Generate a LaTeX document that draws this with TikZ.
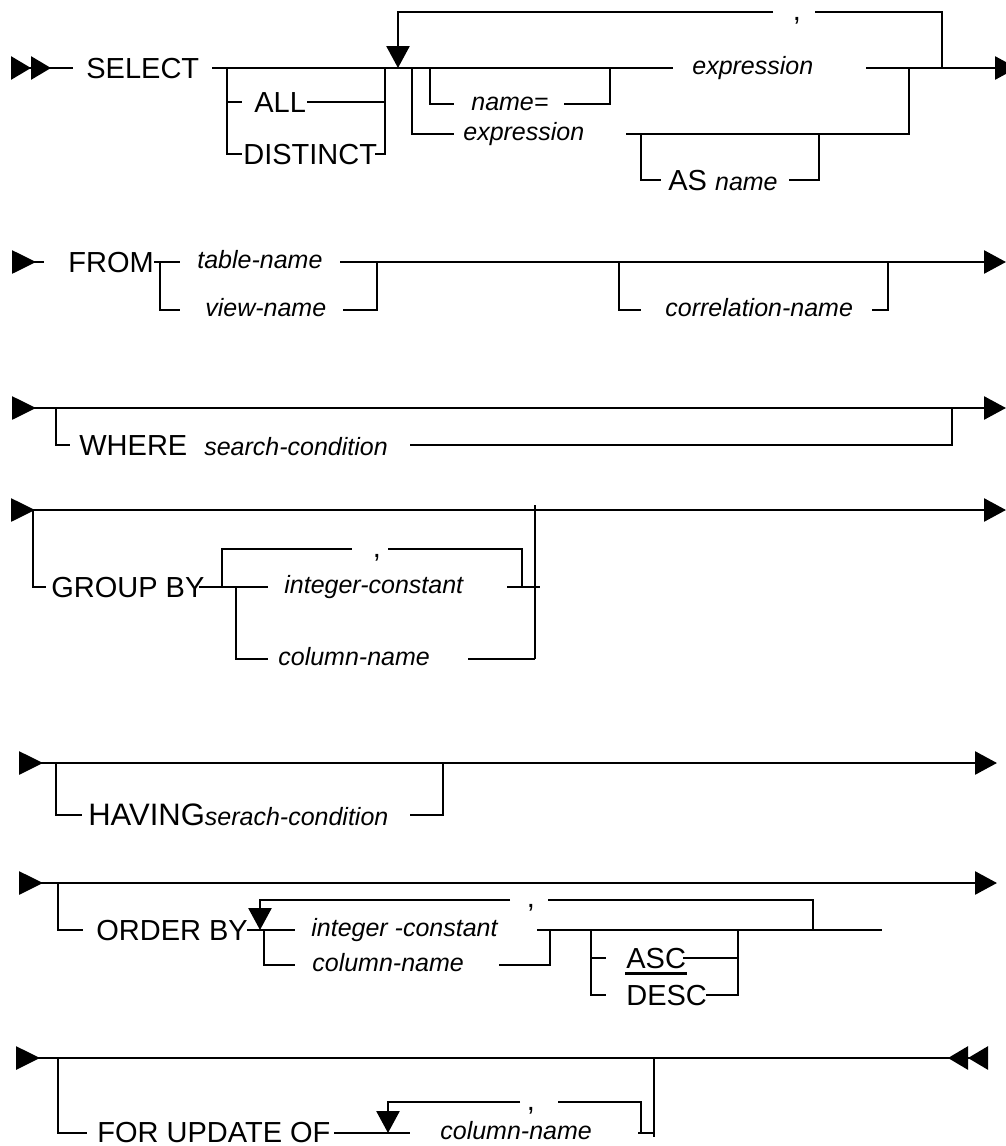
\documentclass[tikz,border=0pt]{standalone}
\usepackage{fontspec}
\setmainfont{Liberation Sans}
\usetikzlibrary{arrows.meta}
\newcommand\varname[1]{{\itshape\fontsize{25}{30}\selectfont #1}}
\tikzset{
  Tri/.tip={Triangle[length=22pt,width=23pt]},
  RTri/.tip={Triangle[reversed,length=24pt,width=23pt]},
  STri/.tip={Triangle[reversed,length=20pt,width=23pt]},
}
\begin{document}
\begin{tikzpicture}[x=1pt,y=-1pt,line width=2.7pt,
  kw/.style={font=\fontsize{29}{34}\selectfont,inner sep=0pt,anchor=west,text height=20.8pt,text depth=0pt},
  vname/.style={font=\itshape\fontsize{25}{30}\selectfont,inner sep=0pt,anchor=west,text height=13pt,text depth=0pt},
  comma/.style={font=\fontsize{29}{34}\selectfont,inner sep=0pt,anchor=base,text height=3pt,text depth=4pt}]
 \useasboundingbox (0,0) rectangle (1006,1146);
 % SELECT
 \draw[{STri[]STri[]}-] (11,68) -- (73,68);
 \node[kw] (select) at (85,68) {SELECT};
 \draw (212,68) -- (673,68);
 \draw (227,68) |- (242,154);
 \draw (227,102) -- (242,102);
 \node[kw] (all) at (253,102) {ALL};
 \draw (307,102) -- (385,102);
 \node[kw] (distinct) at (242,154) {DISTINCT};
 \draw (375,154) -| (385,68);
 \draw[-Tri] (773,12) -| (398,68);
 \node[comma] (c1) at (797,20) {,};
 \draw (815,12) -| (942,68);
 \draw (430,68) |- (454,104);
 \node[vname] (nameeq) at (470,104) {name=};
 \draw (564,104) -| (610,68);
 \node[vname] (expr) at (691,68) {expression};
 \draw[-Tri] (866,68) -- (1017,68);
 \draw (412,68) |- (454,134);
 \node[vname] (exprb) at (462,134) {expression};
 \draw (626,134) -| (909,68);
 \draw (641,134) |- (661,180);
 \node[kw] (asname) at (667,180) {AS \varname{name}};
 \draw (789,180) -| (819,134);
 % FROM
 \draw[RTri-] (12,262) -- (44,262);
 \node[kw] (from) at (67,262) {FROM};
 \draw (154,262) -- (180,262);
 \draw (160,262) |- (180,310);
 \node[vname] (tabname) at (196,262) {table-name};
 \node[vname] (viewname) at (204,310) {view-name};
 \draw[-Tri] (340,262) -- (1006,262);
 \draw (343,310) -| (377,262);
 \draw (619,262) |- (641,310);
 \node[vname] (corrname) at (664,310) {correlation-name};
 \draw (872,310) -| (888,262);
 % WHERE
 \draw[RTri-Tri] (12,408) -- (1006,408);
 \draw (56,408) |- (70,445);
 \node[kw] (where) at (78,445) {WHERE\hspace{17pt}\varname{search-condition}};
 \draw (410,445) -| (952,408);
 % GROUP BY
 \draw[RTri-Tri] (11,510) -- (1006,510);
 \draw (33,510) |- (46,587);
 \node[kw] (groupby) at (50,587) {GROUP BY};
 \draw (199,587) -- (268,587);
 \draw (222,587) |- (352,549);
 \node[comma] (c2) at (377,557) {,};
 \draw (388,549) -| (522,587);
 \node[vname] (intconst) at (283,587) {integer-constant};
 \draw (507,587) -- (540,587);
 \draw (535,505) -- (535,659);
 \draw (236,587) |- (268,659);
 \node[vname] (colname) at (277,659) {column-name};
 \draw (468,659) -- (535,659);
 % HAVING
 \draw[RTri-Tri] (19,763) -- (997,763);
 \draw (56,763) |- (82,815);
 \node[kw] (having) at (87,815) {{\fontsize{31}{34}\selectfont HAVING}\varname{serach-condition}};
 \draw (410,815) -| (443,763);
 % ORDER BY
 \draw[RTri-Tri] (19,883) -- (997,883);
 \draw (58,883) |- (83,930);
 \node[kw] (orderby) at (95,930) {ORDER BY};
 \draw (247,930) -- (295,930);
 \draw[-Tri] (510,900) -| (260,930);
 \node[comma] (c3) at (531,907) {,};
 \draw (548,900) -| (813,930);
 \node[vname] (intconstb) at (310,930) {integer -constant};
 \draw (537,930) -- (882,930);
 \draw (264,930) |- (295,965);
 \node[vname] (colnameb) at (311,965) {column-name};
 \draw (499,965) -| (550,930);
 \draw (591,930) |- (606,995);
 \draw (591,958) -- (606,958);
 \node[kw] (asc) at (625,958) {ASC};
 \draw ([yshift=-4pt]asc.south west) -- ([yshift=-4pt]asc.south east);
 \draw (683,958) -- (738,958);
 \node[kw] (desc) at (625,995) {DESC};
 \draw (706,995) -| (738,930);
 % FOR UPDATE OF
 \draw[RTri-{STri[]STri[]}] (16,1058) -- (988,1058);
 \draw (58,1058) |- (87,1133);
 \node[kw] (forupd) at (96,1132) {FOR UPDATE OF};
 \draw (334,1133) -- (410,1133);
 \draw[-Tri] (520,1102) -| (388,1133);
 \node[comma] (c4) at (531,1110) {,};
 \draw (558,1102) -| (641,1133);
 \node[vname] (colnamec) at (439,1133) {column-name};
 \draw (638,1133) -- (654,1133);
 \draw (654,1058) -- (654,1137);
\end{tikzpicture}
\end{document}
